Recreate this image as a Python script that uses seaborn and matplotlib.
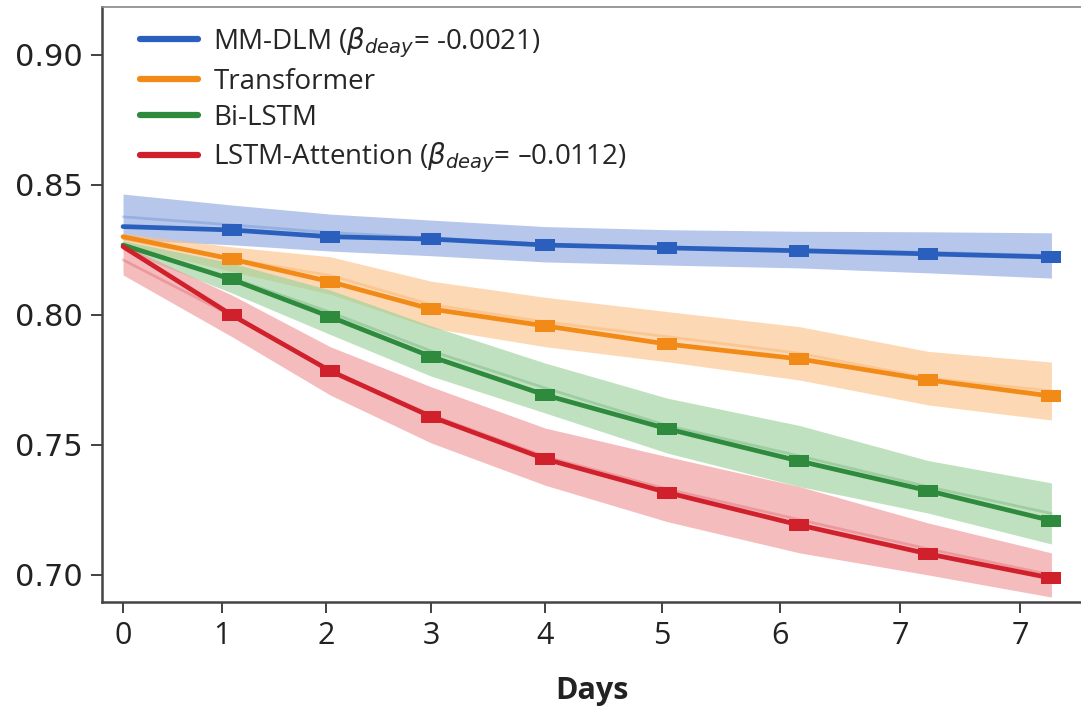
import numpy as np
import pandas as pd
import matplotlib
matplotlib.use("Agg")
import matplotlib.pyplot as plt
import seaborn as sns
from matplotlib.lines import Line2D

# x positions of the points (the source axis is uneven)
days = [0, 0.97, 1.85, 2.75, 3.77, 4.86, 6.04, 7.19, 8.29]
tick_pos = [0, 0.884, 1.813, 2.75, 3.768, 4.813, 5.866, 6.938, 8.009]
tick_labels = ["0", "1", "2", "3", "4", "5", "6", "7", "7"]

models = ["MM-DLM", "Transformer", "Bi-LSTM", "LSTM-Attention"]
legend_labels = [
    r"MM-DLM ($\beta_{deay}$= -0.0021)",
    "Transformer",
    "Bi-LSTM",
    r"LSTM-Attention ($\beta_{deay}$= –0.0112)",
]

mmdlm = [0.8340, 0.8327, 0.8301, 0.8292, 0.8269, 0.8258, 0.8247, 0.8235, 0.8223]
mmdlm_hi = [0.8465, 0.8423, 0.8388, 0.8365, 0.8340, 0.8328, 0.8322, 0.8320, 0.8316]
mmdlm_lo = [0.8290, 0.8270, 0.8246, 0.8228, 0.8204, 0.8192, 0.8181, 0.8162, 0.8142]

transformer = [0.8301, 0.8215, 0.8128, 0.8023, 0.7958, 0.7888, 0.7831, 0.7750, 0.7688]
transformer_hi = [0.8315, 0.8262, 0.8224, 0.8130, 0.8068, 0.8013, 0.7955, 0.7860, 0.7819]
transformer_lo = [0.8269, 0.8167, 0.8080, 0.7950, 0.7878, 0.7820, 0.7750, 0.7654, 0.7596]

bilstm = [0.8269, 0.8137, 0.7993, 0.7840, 0.7692, 0.7562, 0.7438, 0.7324, 0.7209]
bilstm_hi = [0.8285, 0.8200, 0.8096, 0.7958, 0.7815, 0.7680, 0.7575, 0.7440, 0.7354]
bilstm_lo = [0.8250, 0.8085, 0.7925, 0.7765, 0.7623, 0.7469, 0.7340, 0.7238, 0.7119]

lstm_att = [0.8263, 0.8000, 0.7785, 0.7609, 0.7446, 0.7317, 0.7192, 0.7081, 0.6988]
lstm_att_hi = [0.8270, 0.8077, 0.7878, 0.7724, 0.7565, 0.7455, 0.7340, 0.7200, 0.7085]
lstm_att_lo = [0.8154, 0.7917, 0.7692, 0.7508, 0.7345, 0.7205, 0.7085, 0.7000, 0.6915]

colors = ["#2b5fbd", "#f28a18", "#2e8a3c", "#d0202c"]
band_colors = ["#8aa5e0", "#fdc086", "#98d098", "#f09396"]

series = [mmdlm, transformer, bilstm, lstm_att]
highs = [mmdlm_hi, transformer_hi, bilstm_hi, lstm_att_hi]
lows = [mmdlm_lo, transformer_lo, bilstm_lo, lstm_att_lo]

rows = []
for name, vals in zip(models, series):
    for d, v in zip(days, vals):
        rows.append({"Days": d, "Score": v, "Model": name})
df = pd.DataFrame(rows)

sns.set_style("ticks")
plt.rcParams["font.family"] = ["Open Sans", "DejaVu Sans"]

fig = plt.figure(figsize=(10.81, 7.11), dpi=100)
ax = fig.add_axes([0.0944, 0.1533, 0.9056, 0.837])

for i in range(len(models)):
    ax.fill_between(days, lows[i], highs[i], color=band_colors[i], alpha=0.62,
                    linewidth=0, zorder=1)
    mid = (np.array(lows[i]) + np.array(highs[i])) / 2
    ax.plot(days, mid, color=colors[i], alpha=0.22, lw=2, zorder=2)

rect = [(-1.6, -1), (1.6, -1), (1.6, 1), (-1.6, 1), (-1.6, -1)]
sns.lineplot(data=df, x="Days", y="Score", hue="Model", hue_order=models,
             palette=colors, marker=rect, markersize=14, markeredgewidth=0,
             markevery=list(range(1, len(days))),
             linewidth=3.4, legend=False, ax=ax, zorder=3)

handles = [Line2D([0], [0], color=c, lw=4.5) for c in colors]
ax.legend(handles, legend_labels, loc="upper left", frameon=False,
          fontsize=20, handlelength=2.1, handletextpad=0.55,
          labelspacing=0.3, bbox_to_anchor=(0.02, 1.0), borderaxespad=0.25)

ax.set_xlim(-0.1875, 8.554)
ax.set_ylim(0.6896, 0.9185)
ax.set_yticks([0.70, 0.75, 0.80, 0.85, 0.90])
ax.set_yticklabels(["0.70", "0.75", "0.80", "0.85", "0.90"],
                   fontsize=22, family="DejaVu Sans", color="#222222")
ax.set_xticks(tick_pos)
ax.set_xticklabels(tick_labels, fontsize=22, color="#222222")
ax.tick_params(axis="both", length=8, width=1.3, color="#333333", pad=6)
ax.set_xlabel("Days", fontsize=22, fontweight="bold", labelpad=18, color="#222222")
ax.set_ylabel("")

for s in ["left", "bottom"]:
    ax.spines[s].set_color("#444444")
    ax.spines[s].set_linewidth(1.8)
ax.spines["top"].set_color("#888888")
ax.spines["top"].set_linewidth(1.2)
ax.spines["right"].set_visible(False)

fig.savefig("out.png", dpi=100)
